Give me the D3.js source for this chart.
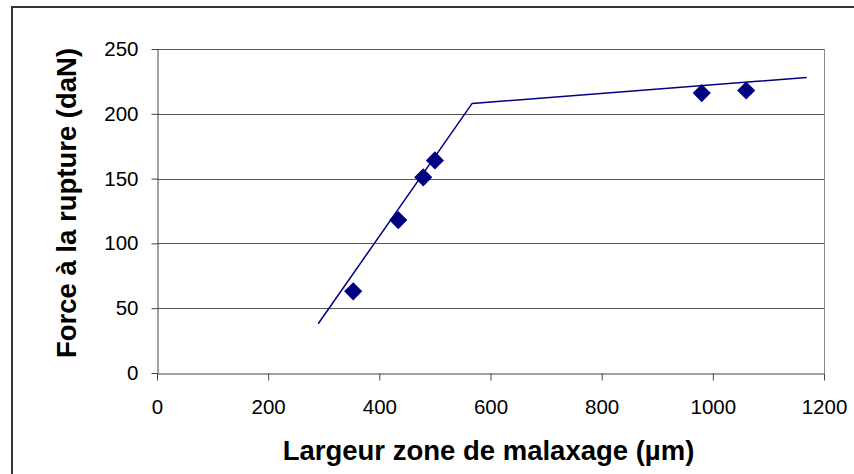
<!DOCTYPE html>
<html lang="fr">
<head>
    <meta charset="UTF-8">
    <title>Force à la rupture</title>
    <script src="https://cdnjs.cloudflare.com/ajax/libs/d3/7.8.5/d3.min.js"></script>
    <style>
        * { margin: 0; padding: 0; }
        body { background: #fff; width: 854px; height: 474px; overflow: hidden; }
        svg { display: block; font-family: Arial, "Liberation Sans", sans-serif; }
    </style>
</head>
<body>
    <div id="chart"></div>
    <script>
        // measured points
        const widths = [353, 434, 479, 500, 980, 1060];
        const forces = [63, 118, 151, 164, 216, 218];

        // two-segment trend line
        const fitX = [290, 567, 1169];
        const fitY = [38, 208, 228];

        const xTicks = [0, 200, 400, 600, 800, 1000, 1200];
        const yTicks = [0, 50, 100, 150, 200, 250];

        const W = 854, H = 474;
        const plot = { left: 157, right: 824, top: 49, bottom: 373 };

        const svg = d3.select('#chart').append('svg')
            .attr('width', W)
            .attr('height', H);

        // outer chart frame (top and left visible)
        svg.append('path')
            .attr('d', `M12,${H} L12,7 L${W},7`)
            .attr('fill', 'none')
            .attr('stroke', '#333')
            .attr('stroke-width', 2);

        const x = d3.scaleLinear().domain([0, 1200]).range([plot.left, plot.right]);
        const y = d3.scaleLinear().domain([0, 250]).range([plot.bottom, plot.top]);

        // horizontal gridlines
        svg.append('g')
            .selectAll('line')
            .data(yTicks.slice(1))
            .enter().append('line')
            .attr('x1', plot.left)
            .attr('x2', plot.right)
            .attr('y1', d => Math.round(y(d)) + 0.5)
            .attr('y2', d => Math.round(y(d)) + 0.5)
            .attr('stroke', '#555');

        // right border of plot area
        svg.append('line')
            .attr('x1', plot.right + 0.5).attr('x2', plot.right + 0.5)
            .attr('y1', plot.top).attr('y2', plot.bottom)
            .attr('stroke', '#888');

        // axes
        const fmt = d3.format('d');
        const xAxis = svg.append('g')
            .attr('transform', `translate(0,${Math.round(y(0)) + 0.5})`)
            .call(d3.axisBottom(x).tickValues(xTicks).tickFormat(fmt)
                .tickSize(7).tickPadding(19).tickSizeOuter(0));

        const yAxis = svg.append('g')
            .attr('transform', `translate(${Math.round(x(0)) + 0.5},0)`)
            .call(d3.axisLeft(y).tickValues(yTicks).tickFormat(fmt)
                .tickSize(6).tickPadding(13).tickSizeOuter(0));

        [xAxis, yAxis].forEach(g => {
            g.select('.domain').attr('stroke', '#444');
            g.selectAll('.tick line').attr('stroke', '#444');
            g.selectAll('.tick text')
                .attr('font-size', 20.5)
                .attr('font-family', 'Arial, "Liberation Sans", sans-serif')
                .attr('fill', '#000');
        });

        // trend line
        const line = d3.line()
            .x(d => x(d[0]))
            .y(d => y(d[1]));

        svg.append('path')
            .datum(fitX.map((v, i) => [v, fitY[i]]))
            .attr('d', line)
            .attr('fill', 'none')
            .attr('stroke', '#000080')
            .attr('stroke-width', 1.5);

        // diamond markers
        const diamond = d3.symbol().type(d3.symbolSquare).size(165);
        svg.append('g')
            .selectAll('path')
            .data(widths.map((v, i) => [v, forces[i]]))
            .enter().append('path')
            .attr('d', diamond)
            .attr('transform', d => `translate(${x(d[0])},${y(d[1])}) rotate(45)`)
            .attr('fill', '#000080');

        // axis titles
        svg.append('text')
            .attr('x', (plot.left + plot.right) / 2 - 2)
            .attr('y', 460)
            .attr('text-anchor', 'middle')
            .attr('font-size', 27.5)
            .attr('font-weight', 'bold')
            .text('Largeur zone de malaxage (µm)');

        svg.append('text')
            .attr('transform', `translate(76,${(plot.top + plot.bottom) / 2 - 8}) rotate(-90)`)
            .attr('text-anchor', 'middle')
            .attr('font-size', 27.5)
            .attr('font-weight', 'bold')
            .text('Force à la rupture (daN)');
    </script>
</body>
</html>
